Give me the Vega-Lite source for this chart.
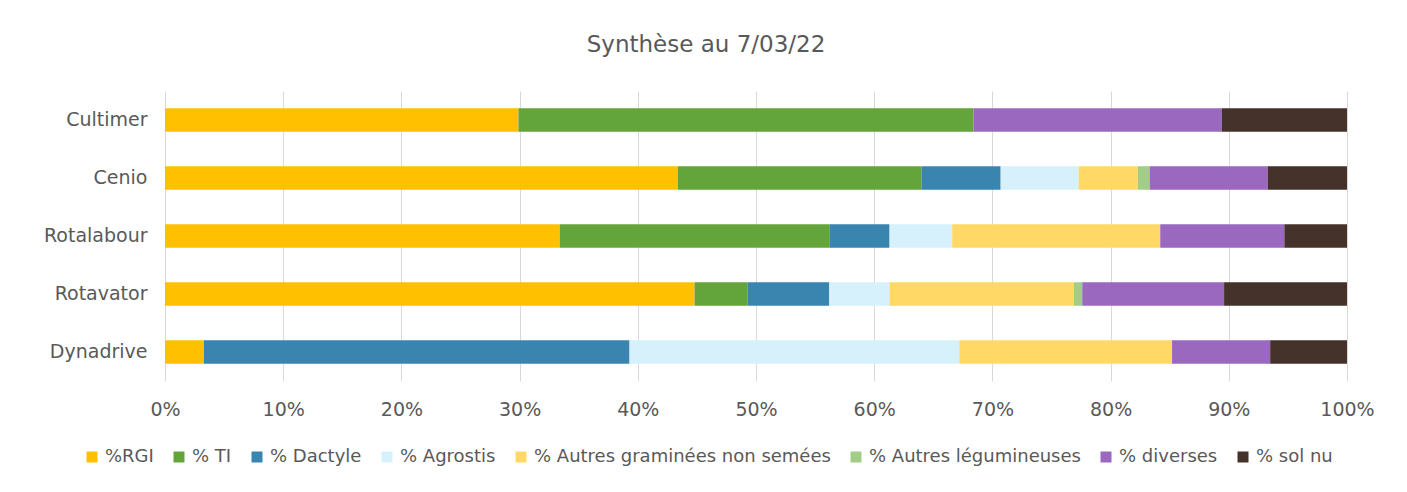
{
  "$schema": "https://vega.github.io/schema/vega-lite/v6.json",
  "autosize": "none",
  "width": 1182,
  "height": 290,
  "padding": {"left": 165, "top": 91, "right": 60, "bottom": 111},
  "background": "white",
  "title": {
    "text": "Synthèse au 7/03/22",
    "fontSize": 23,
    "fontWeight": "normal",
    "font": "DejaVu Sans",
    "color": "#595959",
    "dx": -50,
    "offset": 34
  },
  "data": {
    "values": [
      {"essai": "Cultimer", "serie": "%RGI", "v": 29.9},
      {"essai": "Cultimer", "serie": "% TI", "v": 38.5},
      {"essai": "Cultimer", "serie": "% Dactyle", "v": 0},
      {"essai": "Cultimer", "serie": "% Agrostis", "v": 0},
      {"essai": "Cultimer", "serie": "% Autres graminées non semées", "v": 0},
      {"essai": "Cultimer", "serie": "% Autres légumineuses", "v": 0},
      {"essai": "Cultimer", "serie": "% diverses", "v": 21.0},
      {"essai": "Cultimer", "serie": "% sol nu", "v": 10.6},
      {"essai": "Cenio", "serie": "%RGI", "v": 43.4},
      {"essai": "Cenio", "serie": "% TI", "v": 20.6},
      {"essai": "Cenio", "serie": "% Dactyle", "v": 6.7},
      {"essai": "Cenio", "serie": "% Agrostis", "v": 6.6},
      {"essai": "Cenio", "serie": "% Autres graminées non semées", "v": 5.0},
      {"essai": "Cenio", "serie": "% Autres légumineuses", "v": 1.0},
      {"essai": "Cenio", "serie": "% diverses", "v": 10.0},
      {"essai": "Cenio", "serie": "% sol nu", "v": 6.7},
      {"essai": "Rotalabour ", "serie": "%RGI", "v": 33.4},
      {"essai": "Rotalabour ", "serie": "% TI", "v": 22.8},
      {"essai": "Rotalabour ", "serie": "% Dactyle", "v": 5.1},
      {"essai": "Rotalabour ", "serie": "% Agrostis", "v": 5.3},
      {"essai": "Rotalabour ", "serie": "% Autres graminées non semées", "v": 17.6},
      {"essai": "Rotalabour ", "serie": "% Autres légumineuses", "v": 0},
      {"essai": "Rotalabour ", "serie": "% diverses", "v": 10.5},
      {"essai": "Rotalabour ", "serie": "% sol nu", "v": 5.3},
      {"essai": "Rotavator", "serie": "%RGI", "v": 44.8},
      {"essai": "Rotavator", "serie": "% TI", "v": 4.5},
      {"essai": "Rotavator", "serie": "% Dactyle", "v": 6.9},
      {"essai": "Rotavator", "serie": "% Agrostis", "v": 5.1},
      {"essai": "Rotavator", "serie": "% Autres graminées non semées", "v": 15.6},
      {"essai": "Rotavator", "serie": "% Autres légumineuses", "v": 0.7},
      {"essai": "Rotavator", "serie": "% diverses", "v": 12.0},
      {"essai": "Rotavator", "serie": "% sol nu", "v": 10.4},
      {"essai": "Dynadrive", "serie": "%RGI", "v": 3.3},
      {"essai": "Dynadrive", "serie": "% TI", "v": 0},
      {"essai": "Dynadrive", "serie": "% Dactyle", "v": 36.0},
      {"essai": "Dynadrive", "serie": "% Agrostis", "v": 27.9},
      {"essai": "Dynadrive", "serie": "% Autres graminées non semées", "v": 18.0},
      {"essai": "Dynadrive", "serie": "% Autres légumineuses", "v": 0},
      {"essai": "Dynadrive", "serie": "% diverses", "v": 8.3},
      {"essai": "Dynadrive", "serie": "% sol nu", "v": 6.5}
    ]
  },
  "transform": [
    {"calculate": "indexof(['%RGI','% TI','% Dactyle','% Agrostis','% Autres graminées non semées','% Autres légumineuses','% diverses','% sol nu'], datum.serie)", "as": "ordre"}
  ],
  "mark": {"type": "bar", "strokeWidth": 0},
  "encoding": {
    "y": {
      "field": "essai",
      "type": "nominal",
      "sort": ["Cultimer", "Cenio", "Rotalabour ", "Rotavator", "Dynadrive"],
      "scale": {"paddingInner": 0.595, "paddingOuter": 0.2975},
      "axis": {
        "title": null,
        "domain": false,
        "ticks": false,
        "labelPadding": 18,
        "labelFontSize": 19,
        "labelFont": "DejaVu Sans",
        "labelColor": "#595959",
        "grid": false
      }
    },
    "x": {
      "field": "v",
      "type": "quantitative",
      "stack": "normalize",
      "scale": {"domain": [0, 1]},
      "axis": {
        "title": null,
        "values": [0, 0.1, 0.2, 0.3, 0.4, 0.5, 0.6, 0.7, 0.8, 0.9, 1],
        "format": ".0%",
        "domain": false,
        "ticks": false,
        "labelFlush": false,
        "labelOverlap": false,
        "labelPadding": 19,
        "labelFontSize": 19,
        "labelFont": "DejaVu Sans",
        "labelColor": "#595959",
        "grid": true,
        "gridColor": "#D9D9D9",
        "gridWidth": 1
      }
    },
    "color": {
      "field": "serie",
      "type": "nominal",
      "scale": {
        "domain": ["%RGI", "% TI", "% Dactyle", "% Agrostis", "% Autres graminées non semées", "% Autres légumineuses", "% diverses", "% sol nu"],
        "range": ["#FFC000", "#63A53A", "#3A85B0", "#D6F0FC", "#FFD866", "#A2CD86", "#9A68BF", "#45322A"]
      },
      "legend": {
        "title": null,
        "orient": "none",
        "direction": "horizontal",
        "columns": 8,
        "legendX": -82,
        "legendY": 357,
        "symbolType": "square",
        "symbolSize": 121,
        "symbolStrokeWidth": 0,
        "symbolOpacity": 1,
        "labelFontSize": 18,
        "labelFont": "DejaVu Sans",
        "labelColor": "#595959",
        "labelOffset": 4,
        "columnPadding": 16,
        "labelLimit": 0
      }
    },
    "order": {"field": "ordre", "type": "quantitative"}
  },
  "config": {
    "view": {"stroke": null}
  }
}
